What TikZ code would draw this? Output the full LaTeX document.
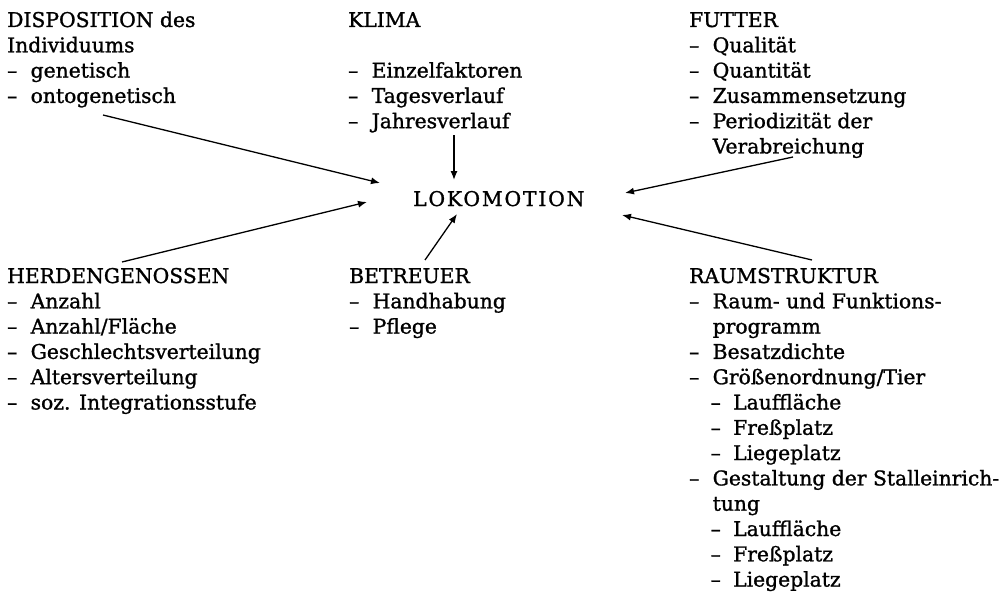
\documentclass[tikz,border=0pt]{standalone}
\usepackage{fontspec}
\setmainfont[FakeBold=1.2]{DejaVu Serif}
\usetikzlibrary{arrows.meta}
\newcommand{\dl}{\makebox[23.5pt][l]{–}}
\newcommand{\cl}{\hspace*{23.5pt}}
\newcommand{\sdl}{\hspace*{21.5pt}\makebox[22.5pt][l]{–}}
\begin{document}
\begin{tikzpicture}[x=1pt,y=-1pt,
  txt/.style={inner sep=0pt, anchor=base west, font=\fontsize{20.3}{25.3}\selectfont},
  arr/.style={line width=1.3pt, -{Latex[length=9pt,width=7pt]}}]
\useasboundingbox (0,0) rectangle (1004,594);
\renewcommand{\arraystretch}{1}
\node[txt] (disp) at (7,27) {\begin{tabular}[t]{@{}l@{}}DISPOSITION des\\Individuums\\\dl genetisch\\\dl ontogenetisch\end{tabular}};
\node[txt] (klima) at (348,27) {\begin{tabular}[t]{@{}l@{}}KLIMA\\ \\\dl Einzelfaktoren\\\dl Tagesverlauf\\\dl Jahresverlauf\end{tabular}};
\node[txt] (futter) at (689,27) {\begin{tabular}[t]{@{}l@{}}FUTTER\\\dl Qualität\\\dl Quantität\\\dl Zusammensetzung\\\dl Periodizität der\\\cl Verabreichung\end{tabular}};
\node[txt] (loko) at (413,206) {\addfontfeature{LetterSpace=9}LOKOMOTION};
\node[txt] (herden) at (7,283) {\begin{tabular}[t]{@{}l@{}}HERDENGENOSSEN\\\dl Anzahl\\\dl Anzahl/Fläche\\\dl Geschlechtsverteilung\\\dl Altersverteilung\\\dl soz. Integrationsstufe\end{tabular}};
\node[txt] (betreuer) at (349,283) {\begin{tabular}[t]{@{}l@{}}BETREUER\\\dl Handhabung\\\dl Pflege\end{tabular}};
\node[txt] (raum) at (689,283) {\begin{tabular}[t]{@{}l@{}}RAUMSTRUKTUR\\\dl Raum- und Funktions-\\\cl programm\\\dl Besatzdichte\\\dl Größenordnung/Tier\\\sdl Lauffläche\\\sdl Freßplatz\\\sdl Liegeplatz\\\dl Gestaltung der Stalleinrich-\\\cl tung\\\sdl Lauffläche\\\sdl Freßplatz\\\sdl Liegeplatz\end{tabular}};
% connector ends
\coordinate (disp-s) at (103,115);
\coordinate (klima-s) at (454,135);
\coordinate (futter-s) at (793,157);
\coordinate (herden-s) at (122,262);
\coordinate (betreuer-s) at (425,260);
\coordinate (raum-s) at (812,260);
\coordinate (loko-a) at (380,183);
\coordinate (loko-b) at (454,180);
\coordinate (loko-c) at (625,193);
\coordinate (loko-d) at (367,202);
\coordinate (loko-e) at (457,214);
\coordinate (loko-f) at (622,215);
\draw[arr] (disp-s) -- (loko-a);
\draw[arr] (klima-s) -- (loko-b);
\draw[arr] (futter-s) -- (loko-c);
\draw[arr] (herden-s) -- (loko-d);
\draw[arr] (betreuer-s) -- (loko-e);
\draw[arr] (raum-s) -- (loko-f);
\end{tikzpicture}
\end{document}
